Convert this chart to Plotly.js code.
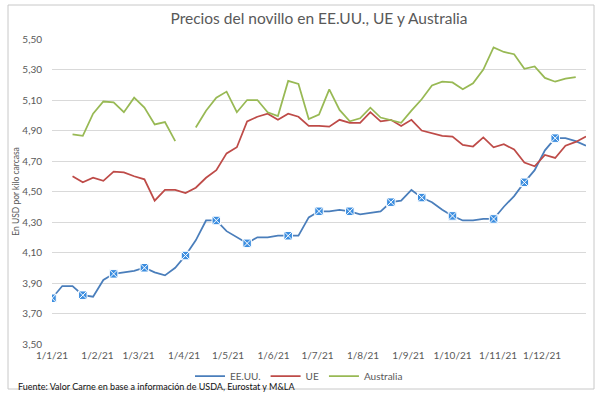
<!DOCTYPE html>
<html>
<head>
<meta charset="utf-8">
<script src="https://cdn.plot.ly/plotly-3.0.1.min.js"></script>
<style>
  html, body { margin: 0; padding: 0; background: #ffffff; }
  #chart { width: 600px; height: 393px; }
</style>
</head>
<body>
<div id="chart"></div>
<script>
// Weekly dates (2021)
var dates = [
  '2021-01-01','2021-01-08','2021-01-15','2021-01-22','2021-01-29',
  '2021-02-05','2021-02-12','2021-02-19','2021-02-26',
  '2021-03-05','2021-03-12','2021-03-19','2021-03-26',
  '2021-04-02','2021-04-09','2021-04-16','2021-04-23','2021-04-30',
  '2021-05-07','2021-05-14','2021-05-21','2021-05-28',
  '2021-06-04','2021-06-11','2021-06-18','2021-06-25',
  '2021-07-02','2021-07-09','2021-07-16','2021-07-23','2021-07-30',
  '2021-08-06','2021-08-13','2021-08-20','2021-08-27',
  '2021-09-03','2021-09-10','2021-09-17','2021-09-24',
  '2021-10-01','2021-10-08','2021-10-15','2021-10-22','2021-10-29',
  '2021-11-05','2021-11-12','2021-11-19','2021-11-26',
  '2021-12-03','2021-12-10','2021-12-17','2021-12-24','2021-12-31'
];

// EE.UU. (USD / kg carcasa)
var eeuu = [3.80,3.88,3.88,3.82,3.81,3.92,3.96,3.97,3.98,4.00,3.97,3.95,4.00,4.08,4.18,4.31,4.31,4.24,4.20,4.16,
            4.20,4.20,4.21,4.21,4.21,4.33,4.37,4.37,4.38,4.37,4.35,4.36,4.37,4.43,4.44,4.51,4.46,4.43,4.38,4.34,
            4.31,4.31,4.32,4.32,4.40,4.47,4.56,4.64,4.77,4.85,4.85,4.83,4.80];

// UE
var ue = [null,null,4.60,4.56,4.59,4.57,4.63,4.625,4.60,4.58,4.44,4.51,4.51,4.49,4.525,4.59,4.64,4.75,4.79,4.96,
          4.99,5.01,4.97,5.01,4.99,4.93,4.93,4.925,4.97,4.95,4.95,5.02,4.96,4.97,4.93,4.97,4.90,4.88,4.865,4.86,
          4.805,4.795,4.855,4.79,4.81,4.775,4.69,4.665,4.74,4.72,4.80,4.825,4.86];

// Australia
var australia = [null,null,4.875,4.865,5.01,5.09,5.085,5.02,5.115,5.05,4.94,4.955,4.83,null,4.92,5.03,5.115,5.155,5.02,5.10,
                 5.10,5.02,4.995,5.225,5.205,4.975,5.005,5.17,5.035,4.96,4.98,5.05,4.985,4.97,4.95,5.03,5.105,5.195,5.22,5.215,
                 5.17,5.21,5.30,5.445,5.415,5.40,5.305,5.32,5.245,5.22,5.24,5.25,null];

// Indices of EE.UU. points that carry a marker
var eeuuMarkerIdx = [0,3,6,9,13,16,19,23,26,29,33,36,39,43,46,49];

// Axis ticks
var xTickVals = ['2021-01-01','2021-02-01','2021-03-01','2021-04-01','2021-05-01','2021-06-01',
                 '2021-07-01','2021-08-01','2021-09-01','2021-10-01','2021-11-01','2021-12-01'];
var xTickText = ['1/1/21','1/2/21','1/3/21','1/4/21','1/5/21','1/6/21',
                 '1/7/21','1/8/21','1/9/21','1/10/21','1/11/21','1/12/21'];

var markX = eeuuMarkerIdx.map(function(i){ return dates[i]; });
var markY = eeuuMarkerIdx.map(function(i){ return eeuu[i]; });

var FONT = 'Lato, "Open Sans", sans-serif';
var GREY = '#595959';

var traces = [
  { x: dates, y: eeuu, name: 'EE.UU.', type: 'scatter', mode: 'lines',
    line: { color: '#4A7EBB', width: 1.75 } },
  { x: dates, y: ue, name: 'UE', type: 'scatter', mode: 'lines',
    line: { color: '#BE4B48', width: 1.75 } },
  { x: dates, y: australia, name: 'Australia', type: 'scatter', mode: 'lines',
    line: { color: '#98B954', width: 1.75 } },
  { x: markX, y: markY, name: 'EE.UU.', type: 'scatter', mode: 'markers', showlegend: false,
    marker: { symbol: 'square-x', size: 8.5, color: '#3C8EE0', line: { color: '#ffffff', width: 1 } } }
];

var L = 52, R = 14, T = 39, B = 49;
var pw = 600 - L - R, ph = 393 - T - B;
function px2x(p){ return (p - L) / pw; }
function py2y(p){ return (393 - B - p) / ph; }

var layout = {
  width: 600, height: 393,
  margin: { l: L, r: R, t: T, b: B, pad: 0, autoexpand: false },
  paper_bgcolor: '#ffffff', plot_bgcolor: '#ffffff',
  separators: ',.',
  font: { family: FONT, size: 10, color: GREY },
  title: { text: 'Precios del novillo en EE.UU., UE y Australia',
           font: { family: FONT, size: 15.5, color: GREY },
           x: 0.5, xref: 'paper', xanchor: 'center',
           y: 1 - 19/393, yref: 'container', yanchor: 'middle' },
  xaxis: {
    type: 'date', range: ['2021-01-01', '2021-12-31'],
    tickmode: 'array', tickvals: xTickVals, ticktext: xTickText,
    showgrid: false, zeroline: false, showline: false, ticks: '',
    ticklabelstandoff: 4, automargin: false,
    tickfont: { family: FONT, size: 10, color: GREY }
  },
  yaxis: {
    range: [3.5, 5.5], tick0: 3.5, dtick: 0.2, tickformat: '.2f',
    showgrid: true, gridcolor: '#D9D9D9', gridwidth: 1,
    zeroline: false, showline: false, ticks: '',
    ticklabelstandoff: 9, automargin: false,
    tickfont: { family: FONT, size: 10, color: GREY },
    title: { text: 'En USD por kilo carcasa', font: { family: FONT, size: 8.5, color: GREY }, standoff: 1 }
  },
  showlegend: true,
  legend: { orientation: 'h', xref: 'container', x: 299/600, xanchor: 'center',
            yref: 'container', y: 1 - 376/393, yanchor: 'middle',
            font: { family: FONT, size: 10, color: GREY }, itemwidth: 30, bgcolor: 'rgba(0,0,0,0)' },
  annotations: [
    { text: 'Fuente: Valor Carne en base a información de USDA, Eurostat y M&LA',
      xref: 'paper', yref: 'paper', x: px2x(16), y: py2y(386), xanchor: 'left', yanchor: 'middle',
      showarrow: false, font: { family: FONT, size: 9, color: '#111111' } }
  ],
  shapes: [
    { type: 'rect', xref: 'paper', yref: 'paper', x0: px2x(8), x1: px2x(594), y0: py2y(389), y1: py2y(5),
      line: { color: '#C8C8C8', width: 1 }, fillcolor: 'rgba(0,0,0,0)', layer: 'below' }
  ]
};

Plotly.newPlot('chart', traces, layout, { displayModeBar: false, staticPlot: true });
</script>
</body>
</html>
